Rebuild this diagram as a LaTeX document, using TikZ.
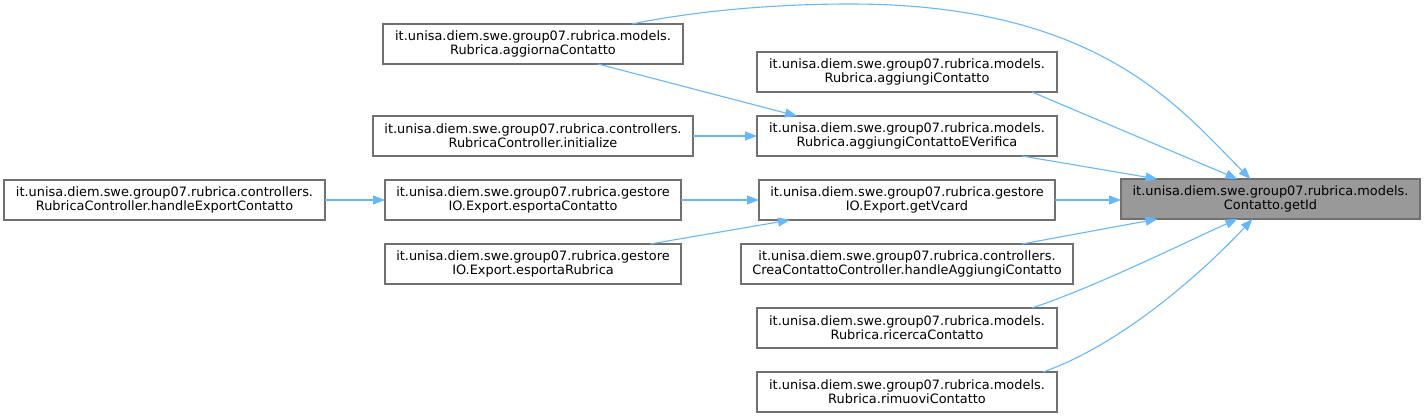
\documentclass[tikz,border=0pt]{standalone}
\usepackage{fontspec}
\setmainfont{DejaVu Sans}
\usetikzlibrary{arrows.meta,calc}
\definecolor{edgeblue}{HTML}{63B8FF}
\definecolor{boxline}{HTML}{707070}
\definecolor{selfill}{HTML}{999999}
\tikzset{
  fn/.style={draw=boxline, line width=1.1pt, fill=white, rectangle, anchor=north west,
    minimum height=40pt, inner sep=0pt, outer sep=0pt, align=center,
    font=\fontsize{12.9}{14.3}\selectfont, text=black},
  sel/.style={fn, fill=selfill},
  edge/.style={draw=edgeblue, line width=1.1pt, -{Triangle[length=12pt,width=9pt]}},
}
\begin{document}
\begin{tikzpicture}[x=1pt,y=-1pt]
\useasboundingbox (0,0) rectangle (1425,417);
% column 4
\node[sel, minimum width=299pt] (getid) at (1121,179) {it.unisa.diem.swe.group07.rubrica.models.\\Contatto.getId};
% column 3
\node[fn, minimum width=300pt] (aggiungi) at (757,52) {it.unisa.diem.swe.group07.rubrica.models.\\Rubrica.aggiungiContatto};
\node[fn, minimum width=300pt] (everifica) at (757,116) {it.unisa.diem.swe.group07.rubrica.models.\\Rubrica.aggiungiContattoEVerifica};
\node[fn, minimum width=296pt] (vcard) at (759,180) {it.unisa.diem.swe.group07.rubrica.gestore\\IO.Export.getVcard};
\node[fn, minimum width=332pt] (crea) at (741,244) {it.unisa.diem.swe.group07.rubrica.controllers.\\CreaContattoController.handleAggiungiContatto};
\node[fn, minimum width=300pt] (ricerca) at (757,308) {it.unisa.diem.swe.group07.rubrica.models.\\Rubrica.ricercaContatto};
\node[fn, minimum width=300pt] (rimuovi) at (757,372) {it.unisa.diem.swe.group07.rubrica.models.\\Rubrica.rimuoviContatto};
% column 2
\node[fn, minimum width=300pt] (aggiorna) at (383,24) {it.unisa.diem.swe.group07.rubrica.models.\\Rubrica.aggiornaContatto};
\node[fn, minimum width=320pt] (init) at (373,116) {it.unisa.diem.swe.group07.rubrica.controllers.\\RubricaController.initialize};
\node[fn, minimum width=296pt] (espc) at (385,180) {it.unisa.diem.swe.group07.rubrica.gestore\\IO.Export.esportaContatto};
\node[fn, minimum width=296pt] (espr) at (385,244) {it.unisa.diem.swe.group07.rubrica.gestore\\IO.Export.esportaRubrica};
% column 1
\node[fn, minimum width=321pt] (hexp) at (4,180) {it.unisa.diem.swe.group07.rubrica.controllers.\\RubricaController.handleExportContatto};

% edges into getId
\coordinate (apex) at (850,4);
\draw[edge] ([xshift=99pt]aggiorna.north) .. controls (700,10) and (780,4) .. (apex)
  .. controls (1100,4) and (1180,109) .. ([xshift=-20pt]getid.north);
\draw[edge] ([xshift=125pt]aggiungi.south) -- ([xshift=-33pt]getid.north);
\draw[edge] ([xshift=115pt]everifica.south) -- ([xshift=-113pt]getid.north);
\draw[edge] (vcard.east) -- (vcard.east -| getid.west);
\draw[edge] ([xshift=115pt]crea.north) -- ([xshift=-113pt]getid.south);
\draw[edge] ([xshift=125pt]ricerca.north) .. controls (1100,285) and (1190,240) .. ([xshift=-33pt]getid.south);
\draw[edge] ([xshift=136pt]rimuovi.north) .. controls (1120,345) and (1200,275) .. ([xshift=-18pt]getid.south);
% other edges
\draw[edge] ([xshift=65pt]aggiorna.south) -- ([xshift=-110pt]everifica.north);
\draw[edge] (init.east) -- (everifica.west);
\draw[edge] (espc.east) -- (vcard.west);
\draw[edge] ([xshift=117pt]espr.north) -- ([xshift=-117pt]vcard.south);
\draw[edge] (hexp.east) -- (espc.west);
\end{tikzpicture}
\end{document}
